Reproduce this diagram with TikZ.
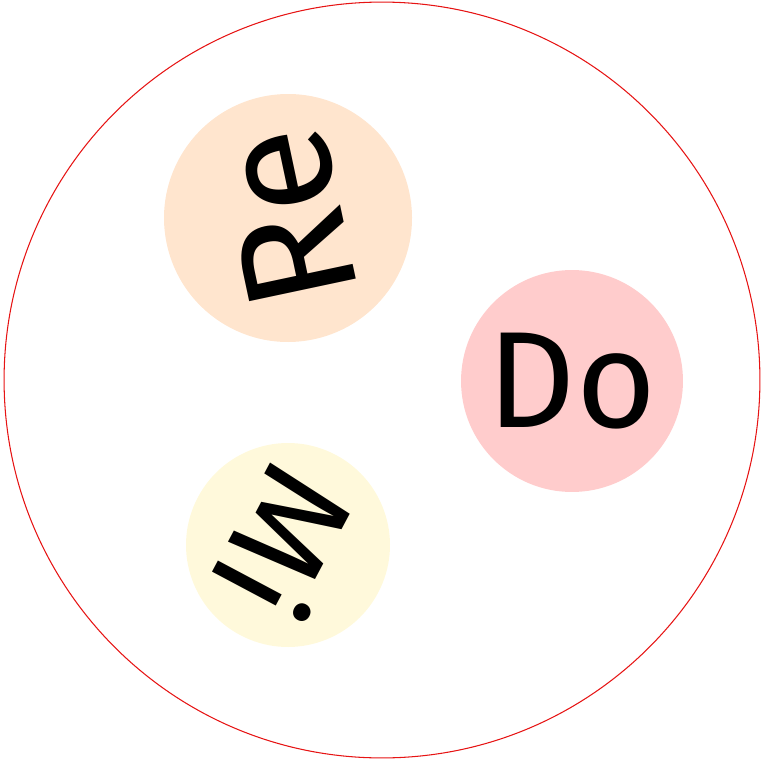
\documentclass[tikz,border=0pt]{standalone}
\usepackage{fontspec}
\setmainfont{Fira Sans}
\definecolor{ringred}{RGB}{230,20,20}
\definecolor{refill}{RGB}{255,229,206}
\definecolor{dofill}{RGB}{255,204,204}
\definecolor{mifill}{RGB}{255,249,219}
\usetikzlibrary{positioning}

\tikzset{
  note/.style={circle, draw=none, inner sep=0pt, font=\fontsize{78}{78}\selectfont, text=black}
}

\begin{document}
\begin{tikzpicture}[x=0.02cm, y=-0.02cm]
  \useasboundingbox (0,0) rectangle (763,760);

  % outer ring
  \node[circle, draw=ringred, line width=0.6pt, minimum size=15.12cm] (ring) at (382,380) {};

  % notes
  \node[note, fill=refill, minimum size=4.96cm, rotate=102, font=\fontsize{90}{90}\selectfont] (re) at (288,218) {Re};
  \node[note, fill=dofill, minimum size=4.44cm] (do) at (572,381) {Do};
  \node[note, fill=mifill, minimum size=4.08cm, rotate=-118] (mi) at (288,545) {Mi};
\end{tikzpicture}
\end{document}
